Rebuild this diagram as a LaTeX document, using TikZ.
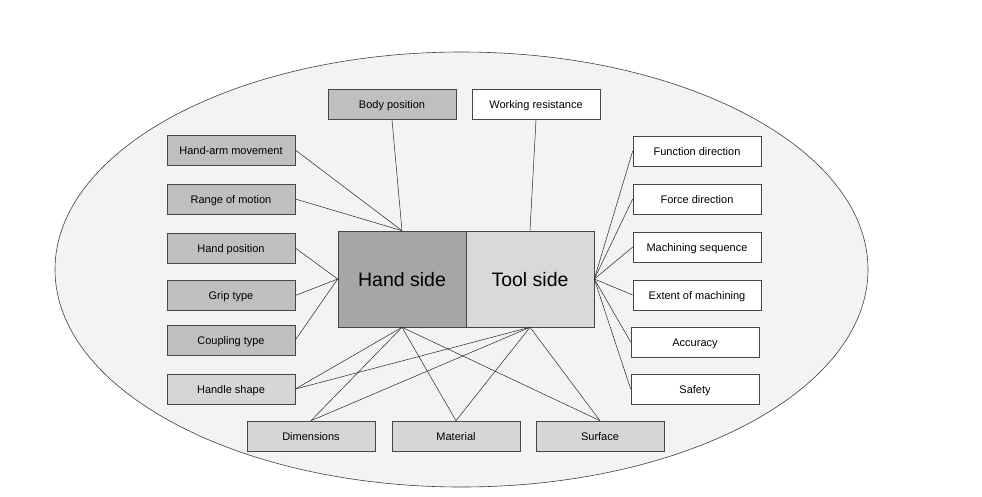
\documentclass[tikz,border=0pt]{standalone}
\usepackage{fontspec}
\setmainfont{Liberation Sans}
\definecolor{ellfill}{RGB}{243,243,243}
\definecolor{darkbox}{RGB}{191,191,191}
\definecolor{lightbox}{RGB}{214,214,214}
\definecolor{handfill}{RGB}{166,166,166}
\definecolor{toolfill}{RGB}{217,217,217}
\definecolor{edge}{RGB}{70,70,70}
\begin{document}
\begin{tikzpicture}[x=1pt,y=-1pt,
  box/.style={draw=edge, line width=0.6pt, minimum width=128pt, minimum height=30pt, inner sep=0pt, text height=9pt, text depth=1pt, font=\fontsize{11}{13}\selectfont},
  dbox/.style={box, fill=darkbox},
  lbox/.style={box, fill=lightbox},
  wbox/.style={box, fill=white},
  bigbox/.style={draw=edge, line width=0.6pt, minimum width=128pt, minimum height=96pt, inner sep=0pt, text height=15pt, text depth=1pt, font=\fontsize{19.5}{22}\selectfont},
  link/.style={draw=black!85, line width=0.5pt}]
\useasboundingbox (0,0) rectangle (982,496);
\fill[white] (0,0) rectangle (982,496);
\draw[fill=ellfill, draw=black!75, line width=0.6pt] (461.5,269.5) ellipse [x radius=406.5, y radius=217.5];

\node[bigbox, fill=handfill] (hand) at (402,279) {Hand side};
\node[bigbox, fill=toolfill] (tool) at (530,279) {Tool side};

\node[dbox] (body) at (392,104.5) {Body position};
\node[wbox] (work) at (536,104.5) {Working resistance};

\node[dbox] (ham) at (231,150) {Hand-arm movement};
\node[dbox] (rom) at (231,199) {Range of motion};
\node[dbox] (hp) at (231,248) {Hand position};
\node[dbox] (grip) at (231,295.5) {Grip type};
\node[dbox] (coup) at (231,340) {Coupling type};
\node[lbox] (handle) at (231,389) {Handle shape};

\node[lbox] (dim) at (311,436) {Dimensions};
\node[lbox] (mat) at (456,436) {Material};
\node[lbox] (surf) at (600,436) {Surface};

\node[wbox] (fd) at (697,151) {Function direction};
\node[wbox] (force) at (697,199) {Force direction};
\node[wbox] (ms) at (697,247) {Machining sequence};
\node[wbox] (ext) at (697,295) {Extent of machining};
\node[wbox] (acc) at (695,342) {Accuracy};
\node[wbox] (safe) at (695,389) {Safety};

\draw[link] (body.south) -- (hand.north);
\draw[link] (work.south) -- (tool.north);
\draw[link] (ham.east) -- (hand.north);
\draw[link] (rom.east) -- (hand.north);
\draw[link] (hp.east) -- (hand.west);
\draw[link] (grip.east) -- (hand.west);
\draw[link] (coup.east) -- (hand.west);
\draw[link] (handle.east) -- (hand.south);
\draw[link] (handle.east) -- (tool.south);
\draw[link] (dim.north) -- (hand.south);
\draw[link] (dim.north) -- (tool.south);
\draw[link] (mat.north) -- (hand.south);
\draw[link] (mat.north) -- (tool.south);
\draw[link] (surf.north) -- (hand.south);
\draw[link] (surf.north) -- (tool.south);
\foreach \n in {fd,force,ms,ext,acc,safe}
  \draw[link] (\n.west) -- (tool.east);
\end{tikzpicture}
\end{document}
